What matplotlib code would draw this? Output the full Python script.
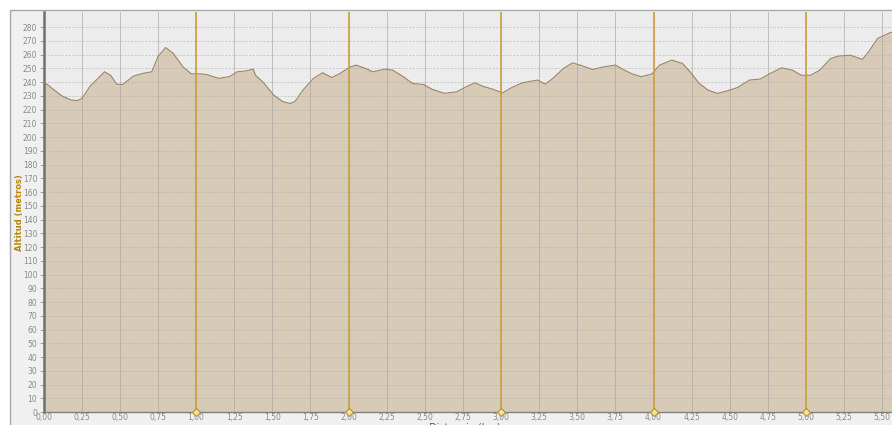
import matplotlib
matplotlib.use("Agg")
import matplotlib.pyplot as plt
from matplotlib.patches import Rectangle
import numpy as np

distance_km = [0.00, 0.05, 0.12, 0.18, 0.22, 0.25, 0.27, 0.305, 0.36, 0.40, 0.44, 0.48, 0.52,
               0.59, 0.65, 0.71, 0.75, 0.80, 0.85, 0.915, 0.97, 1.03, 1.07, 1.15, 1.22,
               1.27, 1.33, 1.375, 1.39, 1.44, 1.51, 1.57, 1.62, 1.65, 1.70, 1.77, 1.83,
               1.89, 1.94, 2.01, 2.05, 2.11, 2.16, 2.24, 2.29, 2.36, 2.42, 2.49, 2.55,
               2.63, 2.71, 2.78, 2.83, 2.88, 2.95, 3.01, 3.07, 3.14, 3.24, 3.29, 3.34,
               3.41, 3.47, 3.54, 3.60, 3.67, 3.75, 3.80, 3.86, 3.92, 3.99, 4.04, 4.12,
               4.19, 4.24, 4.30, 4.36, 4.42, 4.48, 4.55, 4.63, 4.70, 4.76, 4.84, 4.91,
               4.97, 5.03, 5.09, 5.16, 5.21, 5.29, 5.37, 5.41, 5.47, 5.55, 5.57]
altitude_m = [240.5, 236, 230, 227, 226.5, 228, 231, 237, 243, 247.5, 245, 238.5, 238.3,
              244.4, 246.3, 247.5, 258.4, 265.2, 261, 251, 246, 246, 245.5, 242.7, 244,
              247.5, 248.2, 249.5, 245, 240, 230.5, 225.7, 224.5, 226, 234, 242.7, 246.8,
              243.4, 246, 251, 252.4, 250, 247.5, 249.5, 248.7, 243.9, 239, 238.3, 234.7,
              231.8, 233, 237, 239.5, 237, 234.7, 232.2, 236, 239.5, 241.5, 238.5, 242.7,
              250, 254, 251.6, 249.2, 251, 252.4, 249.2, 246, 243.9, 246, 252.4, 256,
              253.6, 247.5, 239, 234, 231.8, 233.5, 236, 241.5, 242.2, 246, 250.4, 248.7,
              245, 245, 248.7, 257, 258.9, 259.6, 256.5, 262, 271.8, 275.9, 276.5]

km_marks = [1, 2, 3, 4, 5]
x_ticks = np.arange(0, 5.51, 0.25)
y_ticks = np.arange(0, 281, 10)

W, H = 892, 425
fig = plt.figure(figsize=(W / 100, H / 100), dpi=100)
fig.patch.set_facecolor("white")
# outer panel
fig.add_artist(Rectangle((10 / W, -0.01), 1.0, (H - 10) / H + 0.01, transform=fig.transFigure,
                         facecolor="#f0f0f0", edgecolor="#a8a8a8", linewidth=1.0, zorder=0))

ax = fig.add_axes([43.5 / W, (H - 412) / H, 1 - 43.5 / W, 400 / H])
ax.set_facecolor("#ececec")
ax.set_xlim(0, (W - 43.5) / 152.5)
ax.set_ylim(0, 291)

ax.fill_between(distance_km, altitude_m, 0, color="#d7cab6", zorder=1, linewidth=0)
ax.plot(distance_km, altitude_m, color="#9a8566", linewidth=0.8, zorder=3)

# grids
for xv in x_ticks:
    ax.axvline(xv, color="#a8a8a8", linewidth=0.6, alpha=0.8, zorder=2)
for yv in y_ticks:
    ax.axhline(yv, color="#b0b0b0", linewidth=0.5, linestyle=(0, (3, 2)), alpha=0.8, zorder=2)

for k in km_marks:
    ax.axvline(k, color="#c9a23a", linewidth=1.2, zorder=4)
ax.plot(km_marks, [0] * len(km_marks), linestyle="none", marker="D", markersize=4.5,
        markerfacecolor="#f3e3a0", markeredgecolor="#b8902a", markeredgewidth=0.8,
        zorder=6, clip_on=False)

ax.set_xticks(x_ticks)
ax.set_xticklabels([f"{v:.2f}".replace(".", ",") for v in x_ticks])
ax.set_yticks(y_ticks)
ax.set_yticklabels([str(v) for v in y_ticks])
ax.tick_params(axis="both", labelsize=5.5, labelcolor="#8a8a8a", color="#909090",
               width=0.6)
ax.tick_params(axis="y", length=3, pad=1.5)
ax.tick_params(axis="x", length=0, pad=1.0)

for s in ["top", "right"]:
    ax.spines[s].set_visible(False)
ax.spines["left"].set_color("#707070")
ax.spines["left"].set_linewidth(1.8)
ax.spines["bottom"].set_color("#808080")
ax.spines["bottom"].set_linewidth(1.0)

fig.text(20 / W, 0.5, "Altitud (metros)", rotation=90, ha="center", va="center",
         fontsize=6, color="#b8860b", fontweight="bold")
fig.text(465 / W, (H - 422) / H, "Distancia (km)", ha="center", va="top",
         fontsize=7, color="#555555")

fig.savefig("out.png", dpi=100)
